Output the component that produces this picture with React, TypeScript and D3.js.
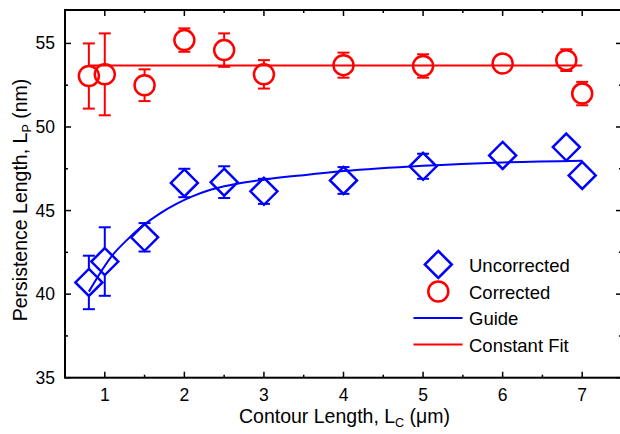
import React, { useEffect, useRef } from 'react'
import * as d3 from 'd3'

// contour length (um)
const uncX = [0.8, 1.0, 1.5, 2.0, 2.5, 3.0, 4.0, 5.0, 6.0, 6.8, 7.0]
const uncY = [40.7, 41.95, 43.4, 46.65, 46.7, 46.15, 46.8, 47.65, 48.3, 48.8, 47.1]
const uncErr = [1.6, 2.05, 0.85, 0.85, 0.95, 0.75, 0.8, 0.75, 0.5, 0.5, 0.6]

const corrX = [0.8, 1.0, 1.5, 2.0, 2.5, 3.0, 4.0, 5.0, 6.0, 6.8, 7.0]
const corrY = [53.05, 53.15, 52.5, 55.2, 54.6, 53.15, 53.7, 53.65, 53.8, 54.0, 52.0]
const corrErr = [1.95, 2.45, 0.95, 0.7, 1.0, 0.85, 0.75, 0.7, 0.45, 0.65, 0.7]

// guide curve
const guideX = [0.8, 1.1, 1.27, 1.48, 1.7, 1.9, 2.1, 2.3, 2.5, 2.75, 3.0, 3.5, 4.0, 5.0, 6.0, 7.0]
const guideY = [40.15, 42.35, 43.2, 44.1, 44.85, 45.4, 45.85, 46.2, 46.45, 46.68, 46.85, 47.12, 47.36, 47.68, 47.88, 47.98]

const fitX = [0.8, 7.0]
const fitY = [53.68, 53.68]

const xMajor = [1, 2, 3, 4, 5, 6, 7]
const xMinor = [1.5, 2.5, 3.5, 4.5, 5.5, 6.5]
const yMajor = [35, 40, 45, 50, 55]
const yMinor = [37.5, 42.5, 47.5, 52.5]

const legendItems = ['Uncorrected', 'Corrected', 'Guide', 'Constant Fit']

const App = () => {
  const svgRef = useRef(null)

  useEffect(() => {
    const width = 620
    const height = 434
    const left = 65,
      right = 622,
      top = 10,
      bottom = 377.7

    const blue = '#0000ff'
    const red = '#ff0000'
    const font = '"Liberation Sans", Arial, Helvetica, sans-serif'

    const svg = d3.select(svgRef.current)
    svg.selectAll('*').remove()
    svg.attr('width', width).attr('height', height)

    const x = d3.scaleLinear().domain([0.5, 7.5]).range([left, right])
    const y = d3.scaleLinear().domain([35, 57]).range([bottom, top])

    // ticks (inward, mirrored)
    const ticks = svg.append('g').attr('stroke', '#000').attr('stroke-width', 1.5)
    const addX = (vals, len) => {
      vals.forEach((v) => {
        ticks.append('line').attr('x1', x(v)).attr('x2', x(v)).attr('y1', bottom).attr('y2', bottom - len)
        ticks.append('line').attr('x1', x(v)).attr('x2', x(v)).attr('y1', top).attr('y2', top + len)
      })
    }
    const addY = (vals, len) => {
      vals.forEach((v) => {
        ticks.append('line').attr('x1', left).attr('x2', left + len).attr('y1', y(v)).attr('y2', y(v))
        ticks.append('line').attr('x1', right).attr('x2', right - len).attr('y1', y(v)).attr('y2', y(v))
      })
    }
    addX(xMajor, 6)
    addX(xMinor, 3)
    addY(yMajor, 6)
    addY(yMinor, 3)

    svg.append('rect')
      .attr('x', left)
      .attr('y', top)
      .attr('width', right - left)
      .attr('height', bottom - top)
      .attr('fill', 'none')
      .attr('stroke', '#000')
      .attr('stroke-width', 2)

    // tick labels
    svg.append('g')
      .selectAll('text')
      .data(xMajor)
      .enter()
      .append('text')
      .attr('x', (d) => x(d))
      .attr('y', 401)
      .attr('text-anchor', 'middle')
      .style('font-family', font)
      .style('font-size', '17.5px')
      .text((d) => d)

    svg.append('g')
      .selectAll('text')
      .data(yMajor)
      .enter()
      .append('text')
      .attr('x', 55)
      .attr('y', (d) => y(d) + 6)
      .attr('text-anchor', 'end')
      .style('font-family', font)
      .style('font-size', '17.5px')
      .text((d) => d)

    // axis titles
    const xt = svg.append('text')
      .attr('x', 344.5)
      .attr('y', 423)
      .attr('text-anchor', 'middle')
      .style('font-family', font)
      .style('font-size', '19.5px')
    xt.append('tspan').text('Contour Length, L')
    xt.append('tspan').attr('dy', 4).style('font-size', '12.5px').text('C')
    xt.append('tspan').attr('dy', -4).text(' (\u03bcm)')

    const yt = svg.append('text')
      .attr('transform', 'rotate(-90)')
      .attr('x', -200)
      .attr('y', 27)
      .attr('text-anchor', 'middle')
      .style('font-family', font)
      .style('font-size', '19.5px')
    yt.append('tspan').text('Persistence Length, L')
    yt.append('tspan').attr('dy', 4).style('font-size', '12.5px').text('P')
    yt.append('tspan').attr('dy', -4).text(' (nm)')

    const plot = svg.append('g')

    // lines
    const line = d3.line()
      .x((d) => x(d[0]))
      .y((d) => y(d[1]))
    plot.append('path')
      .datum(guideX.map((v, i) => [v, guideY[i]]))
      .attr('d', line.curve(d3.curveMonotoneX))
      .attr('fill', 'none')
      .attr('stroke', blue)
      .attr('stroke-width', 2)
    plot.append('path')
      .datum(fitX.map((v, i) => [v, fitY[i]]))
      .attr('d', d3.line().x((d) => x(d[0])).y((d) => y(d[1])))
      .attr('fill', 'none')
      .attr('stroke', red)
      .attr('stroke-width', 2)

    // error bars, drawn only outside the symbol
    const cap = 6
    const errBars = (xs, ys, es, color, half) => {
      const g = plot.append('g').attr('stroke', color).attr('stroke-width', 2).attr('fill', 'none')
      xs.forEach((xv, i) => {
        const cx = x(xv)
        const cy = y(ys[i])
        const yTop = y(ys[i] + es[i])
        const yBot = y(ys[i] - es[i])
        if (cy - yTop > half) {
          g.append('line').attr('x1', cx).attr('x2', cx).attr('y1', yTop).attr('y2', cy - half)
          g.append('line').attr('x1', cx - cap).attr('x2', cx + cap).attr('y1', yTop).attr('y2', yTop)
        }
        if (yBot - cy > half) {
          g.append('line').attr('x1', cx).attr('x2', cx).attr('y1', cy + half).attr('y2', yBot)
          g.append('line').attr('x1', cx - cap).attr('x2', cx + cap).attr('y1', yBot).attr('y2', yBot)
        }
      })
    }
    const dia = 13.5
    const rad = 10
    errBars(uncX, uncY, uncErr, blue, dia - 1)
    errBars(corrX, corrY, corrErr, red, rad - 1)

    const diamond = (cx, cy) =>
      `M${cx},${cy - dia}L${cx + dia},${cy}L${cx},${cy + dia}L${cx - dia},${cy}Z`

    plot.append('g')
      .selectAll('path')
      .data(uncX.map((v, i) => [v, uncY[i]]))
      .enter()
      .append('path')
      .attr('d', (d) => diamond(x(d[0]), y(d[1])))
      .attr('fill', 'none')
      .attr('stroke', blue)
      .attr('stroke-width', 2.5)

    plot.append('g')
      .selectAll('circle')
      .data(corrX.map((v, i) => [v, corrY[i]]))
      .enter()
      .append('circle')
      .attr('cx', (d) => x(d[0]))
      .attr('cy', (d) => y(d[1]))
      .attr('r', rad)
      .attr('fill', 'none')
      .attr('stroke', red)
      .attr('stroke-width', 2.5)

    // legend
    const legend = svg.append('g')
    const rowY = [264.5, 291.5, 318, 344.5]
    const symX = 438.3
    legend.append('path')
      .attr('d', diamond(symX, rowY[0]))
      .attr('fill', 'none')
      .attr('stroke', blue)
      .attr('stroke-width', 2.5)
    legend.append('circle')
      .attr('cx', symX)
      .attr('cy', rowY[1])
      .attr('r', rad)
      .attr('fill', 'none')
      .attr('stroke', red)
      .attr('stroke-width', 2.5)
    legend.append('line')
      .attr('x1', 413.5).attr('x2', 462.5)
      .attr('y1', rowY[2]).attr('y2', rowY[2])
      .attr('stroke', blue).attr('stroke-width', 2)
    legend.append('line')
      .attr('x1', 413.5).attr('x2', 462.5)
      .attr('y1', rowY[3]).attr('y2', rowY[3])
      .attr('stroke', red).attr('stroke-width', 2)
    legend.selectAll('text')
      .data(legendItems)
      .enter()
      .append('text')
      .attr('x', 469)
      .attr('y', (d, i) => rowY[i] + 7)
      .style('font-family', font)
      .style('font-size', '18.5px')
      .text((d) => d)
  }, [])

  return (
    <div style={{ position: 'absolute', left: 0, top: 0, width: 620, height: 434, background: '#fff', overflow: 'hidden' }}>
      <svg ref={svgRef} style={{ display: 'block' }}></svg>
    </div>
  )
}

export default App
